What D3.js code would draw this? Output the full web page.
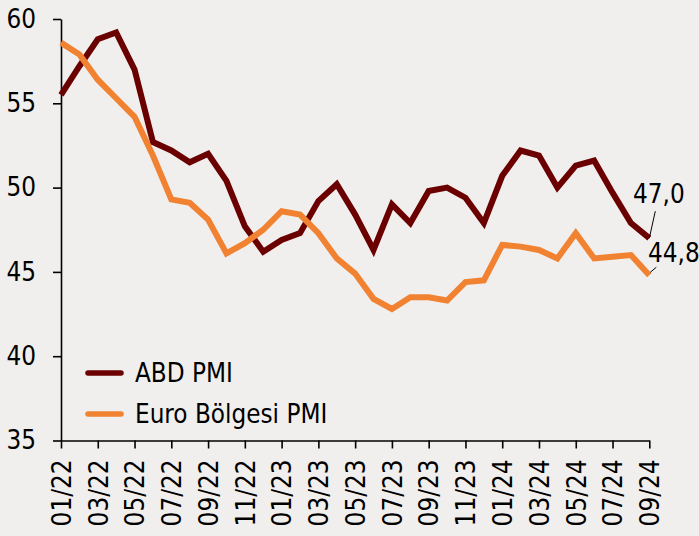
<!DOCTYPE html>
<html>
<head>
<meta charset="utf-8">
<script src="https://cdn.jsdelivr.net/npm/d3@7"></script>
<style>
  html, body { margin: 0; padding: 0; background: #f1efee; }
  svg { display: block; }
  text { font-family: "DejaVu Sans Condensed", "DejaVu Sans", sans-serif; font-stretch: condensed; fill: #000; }
</style>
</head>
<body>
<svg id="chart" width="699" height="536"></svg>
<script>
const months = ["01/22","02/22","03/22","04/22","05/22","06/22","07/22","08/22","09/22","10/22","11/22","12/22",
                "01/23","02/23","03/23","04/23","05/23","06/23","07/23","08/23","09/23","10/23","11/23","12/23",
                "01/24","02/24","03/24","04/24","05/24","06/24","07/24","08/24","09/24"];
const abdPMI = [55.5,57.2,58.8,59.2,57.0,52.7,52.2,51.5,52.0,50.4,47.7,46.2,
                46.9,47.3,49.2,50.2,48.4,46.3,49.0,47.9,49.8,50.0,49.4,47.9,
                50.7,52.2,51.9,50.0,51.3,51.6,49.7,47.9,47.0];
const euroPMI = [58.6,57.9,56.4,55.3,54.2,51.9,49.3,49.1,48.1,46.1,46.7,47.5,
                 48.6,48.4,47.3,45.8,44.9,43.4,42.8,43.5,43.5,43.3,44.4,44.5,
                 46.6,46.5,46.3,45.8,47.3,45.8,45.9,46.0,44.8];
const yTicks = [35,40,45,50,55,60];
const xTickLabels = months.filter((m,i) => i % 2 === 0);
const seriesNames = ["ABD PMI","Euro Bölgesi PMI"];
const seriesColors = ["#6a0000","#f08232"];
const lastLabels = ["47,0","44,8"];

const FS = 25.8;
const svg = d3.select("#chart");
const x = d3.scalePoint().domain(months).range([61, 649.3]);
const y = d3.scaleLinear().domain([35, 60]).range([440.5, 19]);

// Y axis
const yAxis = svg.append("g").attr("transform","translate(61,0)")
  .call(d3.axisLeft(y).tickValues(yTicks).tickSize(8).tickSizeOuter(0).tickPadding(17).tickFormat(d3.format("d")));
yAxis.selectAll("text").attr("font-size", FS).style("font-family","DejaVu Sans Condensed, DejaVu Sans, sans-serif");
yAxis.selectAll("line, path").attr("stroke","#000").attr("stroke-width",1.6);

// X axis
const xAxis = svg.append("g").attr("transform",`translate(0,${y(35)})`)
  .call(d3.axisBottom(x).tickValues(xTickLabels).tickSize(8).tickSizeOuter(0));
xAxis.selectAll("line, path").attr("stroke","#000").attr("stroke-width",1.6);
xAxis.selectAll("text")
  .attr("font-size", FS)
  .style("font-family","DejaVu Sans Condensed, DejaVu Sans, sans-serif")
  .attr("text-anchor","end")
  .attr("transform","rotate(-90)")
  .attr("x", -19)
  .attr("y", 0)
  .attr("dy", "0.36em");

// Lines
const line = d3.line().x((d,i) => x(months[i])).y(d => y(d));
[abdPMI, euroPMI].forEach((data, k) => {
  svg.append("path").datum(data)
    .attr("fill","none")
    .attr("stroke", seriesColors[k])
    .attr("stroke-width", 6)
    .attr("stroke-linejoin","miter")
    .attr("d", line);
});

// Last value annotations
const lastIdx = months.length - 1;
const xl = x(months[lastIdx]);
svg.append("line").attr("x1", xl).attr("y1", y(abdPMI[lastIdx]))
  .attr("x2", xl + 6).attr("y2", y(abdPMI[lastIdx]) - 27).attr("stroke","#000").attr("stroke-width",1);
svg.append("text").attr("x", 633).attr("y", 203).attr("font-size", FS).text(lastLabels[0]);
svg.append("line").attr("x1", xl + 1).attr("y1", y(euroPMI[lastIdx]) - 3)
  .attr("x2", xl + 7).attr("y2", y(euroPMI[lastIdx]) - 8).attr("stroke","#000").attr("stroke-width",1);
svg.append("text").attr("x", 648).attr("y", 262).attr("font-size", FS).text(lastLabels[1]);

// Legend
const legend = svg.append("g");
seriesNames.forEach((name, k) => {
  const ly = 373 + k * 41;
  legend.append("line").attr("x1", 88).attr("x2", 121).attr("y1", ly).attr("y2", ly)
    .attr("stroke", seriesColors[k]).attr("stroke-width", 5.5).attr("stroke-linecap","round");
  legend.append("text").attr("x", 135).attr("y", ly).attr("dy","0.35em").attr("font-size", FS).text(name);
});
</script>
</body>
</html>
